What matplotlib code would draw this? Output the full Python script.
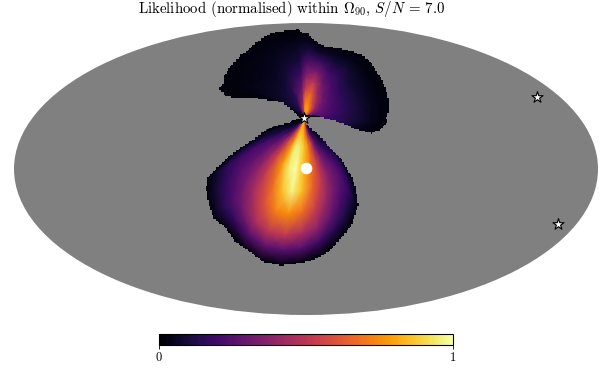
import numpy as np
from matplotlib import pyplot as plt
from matplotlib.patches import Ellipse, PathPatch
from matplotlib.path import Path

plt.rcParams["mathtext.fontset"] = "cm"
plt.rcParams["font.family"] = ["cmr10", "DejaVu Serif"]
plt.rcParams["axes.formatter.use_mathtext"] = True

star = (304, 118)
star_x = [304, 537, 558]
star_y = [118, 97, 224]
source_x = [306]
source_y = [168]

# outlines of the two lobes
lower_outline_x = [300, 287, 268, 257, 242, 230, 218, 207, 206, 208, 213, 225, 235, 250, 263, 280, 297, 315, 330, 345, 352, 358, 355, 350, 342, 330, 317, 305]
lower_outline_y = [118, 123, 128, 137, 147, 155, 167, 178, 190, 203, 218, 228, 242, 252, 262, 265, 263, 259, 250, 232, 223, 203, 185, 173, 160, 147, 133, 122]
upper_outline_x = [300, 290, 282, 263, 250, 233, 225, 223, 219, 223, 223, 227, 232, 240, 247, 255, 263, 270, 287, 298, 302, 307, 313, 323, 337, 350, 362, 370, 375, 382, 386, 389, 388, 386, 387, 380, 372, 360, 350, 337, 327, 317, 308]
upper_outline_y = [117, 108, 102, 99, 97, 97, 96, 92, 88, 83, 77, 70, 63, 55, 50, 43, 37, 33, 30, 29, 33, 33, 40, 46, 48, 51, 55, 62, 70, 80, 92, 102, 112, 118, 123, 130, 133, 130, 126, 121, 118, 117, 117]

# fractions of the way from the central star to the edge of a lobe
fractions = [0.0, 0.1, 0.2, 0.35, 0.5, 0.65, 0.8, 0.9, 1.0, 1.2]

lower_edge_x = [302, 313, 327, 343, 353, 357, 358, 348, 337, 320, 300, 280, 260, 243, 225, 213, 207, 207, 217, 232, 257, 280, 297]
lower_edge_y = [118, 127, 143, 160, 180, 193, 207, 228, 242, 256, 263, 265, 260, 248, 228, 217, 197, 178, 167, 153, 135, 125, 120]
lower_values = [
    [0.03, 0.03, 0.03, 0.03, 0.03, 0.03, 0.03, 0.03, 0.02, 0.02],
    [0.03, 0.03, 0.03, 0.03, 0.03, 0.03, 0.03, 0.03, 0.02, 0.02],
    [0.03, 0.04, 0.04, 0.04, 0.04, 0.04, 0.04, 0.04, 0.02, 0.02],
    [0.03, 0.05, 0.06, 0.08, 0.10, 0.10, 0.08, 0.05, 0.02, 0.02],
    [0.03, 0.05, 0.05, 0.08, 0.12, 0.15, 0.12, 0.07, 0.02, 0.02],
    [0.03, 0.06, 0.07, 0.12, 0.18, 0.20, 0.15, 0.08, 0.02, 0.02],
    [0.05, 0.07, 0.10, 0.18, 0.25, 0.25, 0.18, 0.10, 0.02, 0.02],
    [0.08, 0.10, 0.25, 0.35, 0.38, 0.33, 0.22, 0.13, 0.02, 0.02],
    [0.20, 0.30, 0.50, 0.55, 0.52, 0.42, 0.28, 0.15, 0.02, 0.02],
    [0.45, 0.60, 0.75, 0.72, 0.66, 0.55, 0.38, 0.20, 0.02, 0.02],
    [0.75, 0.80, 0.88, 0.85, 0.85, 0.68, 0.45, 0.25, 0.03, 0.03],
    [0.80, 0.85, 0.95, 1.00, 0.97, 0.75, 0.50, 0.25, 0.03, 0.03],
    [0.75, 0.85, 0.95, 0.95, 0.85, 0.72, 0.50, 0.27, 0.03, 0.03],
    [0.50, 0.65, 0.75, 0.78, 0.68, 0.60, 0.45, 0.25, 0.02, 0.02],
    [0.25, 0.35, 0.50, 0.55, 0.50, 0.43, 0.30, 0.17, 0.02, 0.02],
    [0.12, 0.20, 0.33, 0.40, 0.38, 0.32, 0.22, 0.13, 0.02, 0.02],
    [0.06, 0.10, 0.20, 0.28, 0.27, 0.25, 0.17, 0.10, 0.02, 0.02],
    [0.04, 0.06, 0.12, 0.20, 0.22, 0.20, 0.14, 0.08, 0.02, 0.02],
    [0.03, 0.05, 0.08, 0.13, 0.17, 0.16, 0.12, 0.07, 0.02, 0.02],
    [0.03, 0.04, 0.06, 0.08, 0.10, 0.10, 0.08, 0.05, 0.02, 0.02],
    [0.03, 0.04, 0.05, 0.06, 0.06, 0.06, 0.05, 0.04, 0.02, 0.02],
    [0.03, 0.03, 0.03, 0.03, 0.03, 0.03, 0.03, 0.03, 0.02, 0.02],
    [0.03, 0.03, 0.03, 0.03, 0.03, 0.03, 0.03, 0.03, 0.02, 0.02],
]

upper_edge_x = [317, 337, 350, 372, 387, 388, 389, 382, 370, 357, 340, 323, 307, 297, 267, 255, 240, 227, 223, 219, 225, 250, 270, 288, 298]
upper_edge_y = [117, 121, 126, 133, 123, 112, 102, 80, 62, 53, 48, 46, 33, 29, 32, 43, 55, 70, 77, 88, 96, 97, 100, 107, 115]
upper_values = [
    [0.03, 0.03, 0.03, 0.03, 0.03, 0.03, 0.03, 0.03, 0.02, 0.02],
    [0.04, 0.05, 0.07, 0.07, 0.06, 0.05, 0.04, 0.03, 0.02, 0.02],
    [0.06, 0.08, 0.12, 0.12, 0.09, 0.07, 0.05, 0.03, 0.02, 0.02],
    [0.08, 0.10, 0.15, 0.14, 0.11, 0.08, 0.05, 0.03, 0.02, 0.02],
    [0.10, 0.12, 0.20, 0.17, 0.13, 0.09, 0.05, 0.03, 0.02, 0.02],
    [0.12, 0.15, 0.22, 0.18, 0.13, 0.09, 0.05, 0.03, 0.02, 0.02],
    [0.15, 0.20, 0.25, 0.20, 0.14, 0.09, 0.05, 0.03, 0.02, 0.02],
    [0.25, 0.30, 0.30, 0.22, 0.15, 0.09, 0.05, 0.03, 0.02, 0.02],
    [0.40, 0.45, 0.35, 0.25, 0.17, 0.10, 0.06, 0.03, 0.02, 0.02],
    [0.55, 0.60, 0.45, 0.30, 0.22, 0.15, 0.08, 0.04, 0.02, 0.02],
    [0.70, 0.75, 0.60, 0.42, 0.30, 0.20, 0.10, 0.05, 0.02, 0.02],
    [0.75, 0.80, 0.75, 0.65, 0.50, 0.33, 0.18, 0.08, 0.02, 0.02],
    [0.70, 0.75, 0.70, 0.50, 0.35, 0.22, 0.10, 0.05, 0.02, 0.02],
    [0.40, 0.50, 0.40, 0.28, 0.18, 0.10, 0.06, 0.03, 0.02, 0.02],
    [0.15, 0.20, 0.15, 0.13, 0.09, 0.06, 0.04, 0.03, 0.02, 0.02],
    [0.10, 0.12, 0.12, 0.10, 0.07, 0.05, 0.04, 0.03, 0.02, 0.02],
    [0.06, 0.08, 0.09, 0.08, 0.06, 0.04, 0.03, 0.03, 0.02, 0.02],
    [0.05, 0.05, 0.07, 0.06, 0.05, 0.04, 0.03, 0.02, 0.02, 0.02],
    [0.04, 0.05, 0.06, 0.05, 0.04, 0.03, 0.03, 0.02, 0.02, 0.02],
    [0.04, 0.05, 0.05, 0.05, 0.04, 0.03, 0.03, 0.02, 0.02, 0.02],
    [0.04, 0.05, 0.05, 0.04, 0.04, 0.03, 0.03, 0.02, 0.02, 0.02],
    [0.04, 0.05, 0.05, 0.04, 0.03, 0.03, 0.03, 0.02, 0.02, 0.02],
    [0.04, 0.05, 0.05, 0.04, 0.03, 0.03, 0.03, 0.02, 0.02, 0.02],
    [0.03, 0.04, 0.04, 0.03, 0.03, 0.03, 0.03, 0.02, 0.02, 0.02],
    [0.03, 0.03, 0.03, 0.03, 0.03, 0.03, 0.03, 0.02, 0.02, 0.02],
]


def blocky_path(outline_x, outline_y, step=1.5):
    # outline snapped to the sky map's coarse pixels so the edge looks the same
    x = np.array(list(outline_x) + [outline_x[0]], dtype=float)
    y = np.array(list(outline_y) + [outline_y[0]], dtype=float)
    s = np.concatenate([[0], np.cumsum(np.hypot(np.diff(x), np.diff(y)))])
    t = np.arange(0, s[-1], step)
    sx = np.round(np.interp(t, s, x) / step) * step
    sy = np.round(np.interp(t, s, y) / step) * step
    verts = []
    for i in range(len(t)):
        verts.append((sx[i], sy[i]))
        verts.append((sx[(i + 1) % len(t)], sy[i]))
    verts.append(verts[0])
    return Path(verts, closed=True)


def draw_lobe(ax, edge_x, edge_y, values, outline_x, outline_y):
    # fan of rays from the star out past the edge, closed back on itself
    f = np.array(fractions)
    ex = np.array(list(edge_x) + [edge_x[0]], dtype=float)
    ey = np.array(list(edge_y) + [edge_y[0]], dtype=float)
    c = np.array(list(values) + [values[0]])
    x = star[0] + np.outer(ex - star[0], f)
    y = star[1] + np.outer(ey - star[1], f)
    mesh = ax.pcolormesh(x, y, c, shading="gouraud", cmap="inferno", vmin=0, vmax=1, zorder=2)
    mesh.set_clip_path(PathPatch(blocky_path(outline_x, outline_y), transform=ax.transData))
    return mesh


def main():
    fig = plt.figure(figsize=(6.12, 3.88), dpi=100)
    ax = fig.add_axes([0, 0, 1, 1])
    ax.set_xlim(0, 612)
    ax.set_ylim(388, 0)
    ax.axis("off")

    ax.add_patch(Ellipse((306, 169), 584, 292, facecolor="#808080", edgecolor="none", zorder=1))
    mesh = draw_lobe(ax, lower_edge_x, lower_edge_y, lower_values, lower_outline_x, lower_outline_y)
    draw_lobe(ax, upper_edge_x, upper_edge_y, upper_values, upper_outline_x, upper_outline_y)

    ax.scatter(source_x, source_y, s=70, color="white", linewidths=0, zorder=3)
    ax.scatter(star_x, star_y, s=70, marker="*", facecolor="white", edgecolor="black", linewidths=0.8, zorder=4)

    ax.text(292, 9, r"Likelihood (normalised) within $\Omega_{90}$, $S/N$ = 7.0", fontsize=10.7,
            ha="center", va="center")

    cax = fig.add_axes([159 / 612, 1 - 345 / 388, 294 / 612, 11 / 388])
    cbar = fig.colorbar(mesh, cax=cax, orientation="horizontal")
    cbar.set_ticks([0, 1])
    cbar.set_ticklabels(["0", "1"])
    cbar.ax.tick_params(labelsize=9, length=3, width=0.6, pad=2)
    cbar.outline.set_linewidth(0.8)

    fig.savefig("out.png", dpi=100)


if __name__ == "__main__":
    main()
